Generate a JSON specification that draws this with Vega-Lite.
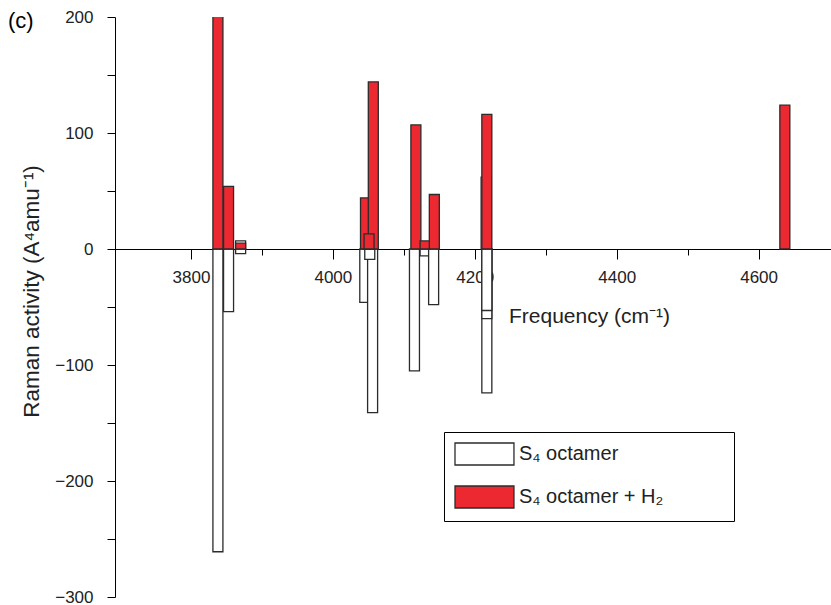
{
  "$schema": "https://vega.github.io/schema/vega-lite/v6.json",
  "width": 716,
  "height": 580,
  "autosize": {"type": "none"},
  "padding": {"left": 115, "top": 17, "right": 0, "bottom": 8},
  "background": "white",
  "title": {"text": "(c)", "anchor": "start", "frame": "group", "fontSize": 22, "font": "Liberation Sans", "fontWeight": "normal", "dx": -107, "dy": 35, "offset": 0, "baseline": "middle", "color": "black"},
  "config": {"view": {"stroke": null}, "font": "Liberation Sans"},
  "data": {"values": [
    {"freq": 3838, "value": -261, "series": "S₄ octamer"},
    {"freq": 3853, "value": -54, "series": "S₄ octamer"},
    {"freq": 3870, "value": 7, "series": "S₄ octamer"},
    {"freq": 3870, "value": -4, "series": "S₄ octamer"},
    {"freq": 4045, "value": -46, "series": "S₄ octamer"},
    {"freq": 4056, "value": -141, "series": "S₄ octamer"},
    {"freq": 4052, "value": -9, "series": "S₄ octamer"},
    {"freq": 4115, "value": -105, "series": "S₄ octamer"},
    {"freq": 4130, "value": -6, "series": "S₄ octamer"},
    {"freq": 4142, "value": -48, "series": "S₄ octamer"},
    {"freq": 4216, "value": 62, "series": "S₄ octamer"},
    {"freq": 4217, "value": -124, "series": "S₄ octamer"},
    {"freq": 4217, "value": -60, "series": "S₄ octamer"},
    {"freq": 4217, "value": -53, "series": "S₄ octamer"},
    {"freq": 3838, "value": 210, "series": "S₄ octamer + H₂"},
    {"freq": 3853, "value": 54, "series": "S₄ octamer + H₂"},
    {"freq": 3870, "value": 5, "series": "S₄ octamer + H₂"},
    {"freq": 4046, "value": 44, "series": "S₄ octamer + H₂"},
    {"freq": 4057, "value": 144, "series": "S₄ octamer + H₂"},
    {"freq": 4051, "value": 13, "series": "S₄ octamer + H₂"},
    {"freq": 4117, "value": 107, "series": "S₄ octamer + H₂"},
    {"freq": 4130, "value": 7, "series": "S₄ octamer + H₂"},
    {"freq": 4143, "value": 47, "series": "S₄ octamer + H₂"},
    {"freq": 4217, "value": 116, "series": "S₄ octamer + H₂"},
    {"freq": 4637, "value": 124, "series": "S₄ octamer + H₂"}
  ]},
  "mark": {"type": "bar", "size": 10, "stroke": "#2b2b2b", "strokeWidth": 1.3, "clip": true, "opacity": 1},
  "encoding": {
    "x": {
      "field": "freq", "type": "quantitative",
      "scale": {"domain": [3700, 4695], "nice": false, "zero": false},
      "axis": {
        "orient": "bottom", "offset": -348,
        "values": [3800, 3900, 4000, 4100, 4200, 4300, 4400, 4500, 4600],
        "format": "d",
        "labelExpr": "datum.value % 200 === 0 ? datum.label : ''",
        "tickSize": {"condition": {"test": "datum.value % 200 === 0", "value": 10}, "value": 6},
        "tickColor": "black", "domainColor": "black", "grid": false,
        "labelFontSize": 17, "labelColor": "#222", "labelPadding": 10, "labelFont": "Liberation Sans",
        "title": "Frequency (cm⁻¹)", "titleFontSize": 21, "titleFontWeight": "normal", "titleColor": "#222",
        "titleX": 474, "titleY": 67, "titleAlign": "center", "titleBaseline": "middle", "titleFont": "Liberation Sans"
      }
    },
    "y": {
      "field": "value", "type": "quantitative", "stack": null,
      "scale": {"domain": [-300, 200], "nice": false},
      "axis": {
        "values": [-300, -250, -200, -150, -100, -50, 0, 50, 100, 150, 200],
        "labelExpr": "datum.value % 100 === 0 ? datum.label : ''",
        "tickSize": 8,
        "tickColor": "black", "domainColor": "black", "grid": false,
        "labelFontSize": 17, "labelColor": "#222", "labelPadding": 14, "labelFont": "Liberation Sans",
        "title": "Raman activity (A⁴amu⁻¹)", "titleFontSize": 22.5, "titleFontWeight": "normal", "titleColor": "#222",
        "titleX": -84, "titleY": 274, "titleAlign": "center", "titleBaseline": "middle", "titleFont": "Liberation Sans"
      }
    },
    "color": {
      "field": "series", "type": "nominal",
      "scale": {"domain": ["S₄ octamer", "S₄ octamer + H₂"], "range": ["white", "#EC2830"]},
      "legend": {
        "orient": "none", "legendX": 329, "legendY": 415, "title": null,
        "strokeColor": "black", "fillColor": "white", "padding": 10,
        "symbolType": "M-1,-1H4.36V1H-1Z", "symbolSize": 484,
        "symbolStrokeWidth": 1.3, "symbolStrokeColor": "#2b2b2b", "symbolOpacity": 1,
        "labelFontSize": 20, "labelFont": "Liberation Sans", "labelColor": "#222",
        "rowPadding": 15, "labelOffset": 41, "labelLimit": 400,
        "labelExpr": "datum.label + '\u2800\u2800\u2800\u2800'"
      }
    }
  }
}
